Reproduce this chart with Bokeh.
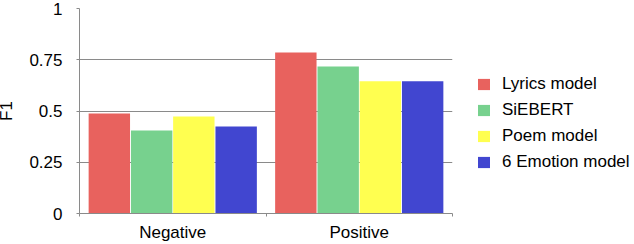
from bokeh.plotting import figure
from bokeh.models import (ColumnDataSource, Range1d, LinearAxis, FixedTicker, Legend, LegendItem)
from bokeh.transform import dodge
from bokeh.embed import file_html
from bokeh.resources import INLINE

categories = ["Negative", "Positive"]
series_names = ["Lyrics model", "SiEBERT", "Poem model", "6 Emotion model"]
lyrics_model = [0.488, 0.785]
siebert = [0.405, 0.717]
poem_model = [0.473, 0.645]
emotion6_model = [0.424, 0.645]
y_ticks = [0, 0.25, 0.5, 0.75, 1]
y_tick_labels = ["0", "0.25", "0.5", "0.75", "1"]

colors = ["#E8625E", "#77D18E", "#FFFF50", "#4146D0"]
offsets = [-0.34, -0.113, 0.113, 0.34]
FONT = "Liberation Sans"
GRAY = "#8a8a8a"

centers = [i + 0.5 for i in range(len(categories))]
bounds = list(range(len(categories) + 1))
source = ColumnDataSource(data=dict(xc=centers, lyrics=lyrics_model, siebert=siebert,
                                    poem=poem_model, emo=emotion6_model))

p = figure(x_range=Range1d(0, len(categories)), y_range=Range1d(0, 1),
           width=634, height=244, frame_width=373, frame_height=205,
           min_border_left=79, min_border_right=0, min_border_top=8, min_border_bottom=31,
           output_backend="svg", toolbar_location=None, x_axis_location=None,
           margin=(0, -8, -8, -6))
p.outline_line_color = None
p.background_fill_color = "white"
p.border_fill_color = "white"

cax = LinearAxis(ticker=FixedTicker(ticks=centers, minor_ticks=bounds),
                 axis_line_color=GRAY, major_tick_line_color=None, major_tick_out=0, major_tick_in=0,
                 minor_tick_line_color=GRAY, minor_tick_out=3, minor_tick_in=0,
                 major_label_overrides={c: n for c, n in zip(centers, categories)},
                 major_label_text_font=FONT, major_label_text_font_size="17px",
                 major_label_text_color="black", major_label_standoff=6)
p.add_layout(cax, "below")

yax = p.yaxis[0]
yax.ticker = FixedTicker(ticks=y_ticks)
yax.major_label_overrides = {t: l for t, l in zip(y_ticks, y_tick_labels)}
yax.major_label_text_font = FONT
yax.major_label_text_font_size = "17px"
yax.major_label_text_color = "black"
yax.major_label_standoff = 14
yax.major_tick_out = 3
yax.major_tick_in = 0
yax.minor_tick_line_color = None
yax.axis_line_color = GRAY
yax.major_tick_line_color = GRAY
yax.axis_label = "F1"
yax.axis_label_text_font = FONT
yax.axis_label_text_font_size = "17px"
yax.axis_label_text_font_style = "normal"
yax.axis_label_text_color = "black"
yax.axis_label_standoff = 10

p.xgrid.grid_line_color = None
p.ygrid.ticker = FixedTicker(ticks=y_ticks)
p.ygrid.grid_line_color = GRAY

fields = ["lyrics", "siebert", "poem", "emo"]
renderers = []
for f, c, o in zip(fields, colors, offsets):
    r = p.vbar(x=dodge("xc", o), top=f, bottom=0, width=0.222,
               source=source, fill_color=c, line_color=None)
    renderers.append(r)

legend = Legend(items=[LegendItem(label=n, renderers=[r]) for n, r in zip(series_names, renderers)],
                location=(24, 41), orientation="vertical", glyph_width=15, glyph_height=14,
                label_height=14, spacing=6, label_standoff=11, padding=0, margin=0,
                border_line_color=None, background_fill_alpha=0,
                label_text_font=FONT, label_text_font_size="17px", label_text_color="black")
p.add_layout(legend, "right")

open("out.html", "w").write(file_html(p, INLINE))
